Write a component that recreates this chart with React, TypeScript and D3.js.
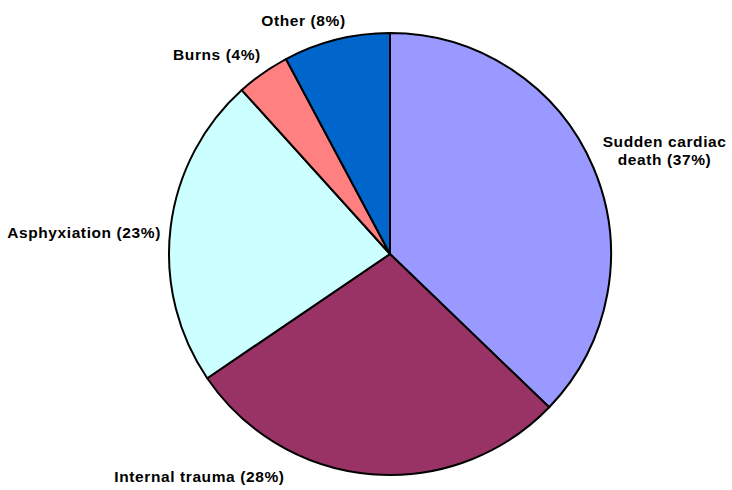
import React, { useEffect } from "react";
import * as d3 from "d3";

const categories = ["Sudden cardiac death", "Internal trauma", "Asphyxiation", "Burns", "Other"];
const values = [37.2, 28.3, 22.8, 3.9, 7.8];
const labels = [["Sudden cardiac", "death (37%)"], ["Internal trauma (28%)"], ["Asphyxiation (23%)"], ["Burns (4%)"], ["Other (8%)"]];
const colors = ["#9999FF", "#993366", "#CCFFFF", "#FF8080", "#0066CC"];

// label layout (manual nudges from the arc anchor, like dragged Excel labels)
const labelNudge: [number, number][] = [[62, 1.4], [-171, -2.5], [-76.6, 11.2], [-40.2, -5], [-30.5, -4.4]];

const W = 732, H = 490;
const cx = 390, cy = 254, R = 221;

export default function App() {
  useEffect(() => {
    document.body.style.margin = "0";
  }, []);
  const pie = d3.pie<number>().sort(null).value((d) => d).startAngle(0).endAngle(2 * Math.PI);
  const arcs = pie(values);
  const arc = d3.arc<d3.PieArcDatum<number>>().innerRadius(0).outerRadius(R);
  const lineH = 17.7;
  return (
    <svg width={W} height={H} style={{ display: "block" }}>
      <rect width={W} height={H} fill="#fff" />
      <g transform={`translate(${cx},${cy})`}>
        {arcs.map((a, i) => (
          <path key={categories[i]} d={arc(a) || ""} fill={colors[i]} stroke="#000" strokeWidth={2} strokeLinejoin="round" />
        ))}
        {arcs.map((a, i) => {
          const mid = (a.startAngle + a.endAngle) / 2;
          const ax = Math.sin(mid) * (R + 10) + labelNudge[i][0];
          const ay = -Math.cos(mid) * (R + 10) + labelNudge[i][1];
          const lines = labels[i];
          return (
            <text key={"l" + i} x={ax} y={ay} textAnchor="middle" fontFamily="'Liberation Sans', Arial, sans-serif" fontWeight="bold" fontSize={15.5} letterSpacing={0.6} fill="#000">
              {lines.map((t, j) => (
                <tspan key={j} x={ax} y={ay - (lines.length - 1 - j) * lineH}>{t}</tspan>
              ))}
            </text>
          );
        })}
      </g>
    </svg>
  );
}
